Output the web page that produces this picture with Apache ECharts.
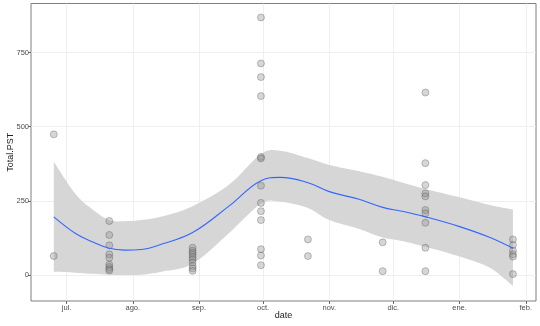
<!DOCTYPE html>
<html><head><meta charset="utf-8">
<script src="https://cdn.jsdelivr.net/npm/echarts@6/dist/echarts.min.js"></script>
<style>html,body{margin:0;padding:0;background:#fff}#c{width:540px;height:326px}</style>
</head><body><div id="c"></div>
<script>
const monthTicks = ['2019-07-01','2019-08-01','2019-09-01','2019-10-01','2019-11-01','2019-12-01','2020-01-01','2020-02-01'];
const monthLabels = ['jul.','ago.','sep.','oct.','nov.','dic.','ene.','feb.'];
const yTicks = [0, 250, 500, 750];

const pointDates = [
  '2019-06-25','2019-06-25',
  '2019-07-21','2019-07-21','2019-07-21','2019-07-21','2019-07-21','2019-07-21','2019-07-21','2019-07-21','2019-07-21',
  '2019-08-29','2019-08-29','2019-08-29','2019-08-29','2019-08-29','2019-08-29','2019-08-29','2019-08-29','2019-08-29','2019-08-29',
  '2019-09-30','2019-09-30','2019-09-30','2019-09-30','2019-09-30','2019-09-30','2019-09-30','2019-09-30','2019-09-30','2019-09-30','2019-09-30','2019-09-30','2019-09-30',
  '2019-10-22','2019-10-22',
  '2019-11-26','2019-11-26',
  '2019-12-16','2019-12-16','2019-12-16','2019-12-16','2019-12-16','2019-12-16','2019-12-16','2019-12-16','2019-12-16','2019-12-16',
  '2020-01-26','2020-01-26','2020-01-26','2020-01-26','2020-01-26','2020-01-26'
];
const pointValues = [
  474, 64,
  182, 135, 100, 70, 58, 35, 27, 20, 15,
  92, 82, 75, 68, 60, 52, 42, 30, 22, 14,
  868, 713, 667, 603, 398, 393, 301, 243, 215, 185, 87, 66, 33,
  120, 64,
  110, 13,
  615, 377, 303, 275, 265, 219, 208, 176, 92, 13,
  120, 101, 82, 70, 62, 3
];

const fitDates = ['2019-06-25','2019-07-05','2019-07-13','2019-07-21','2019-07-28','2019-08-05','2019-08-15','2019-08-29','2019-09-15','2019-09-30','2019-10-09','2019-10-22','2019-11-01','2019-11-15','2019-11-26','2019-12-05','2019-12-16','2020-01-01','2020-01-15','2020-01-26'];
const fitValues = [196, 141, 112, 90, 84, 86, 105, 143, 232, 318, 329, 311, 281, 255, 228, 215, 196, 163, 127, 90];
const fitLower  = [11, 8, 4, 1, 0, 1, 12, 38, 141, 240, 247, 226, 185, 155, 126, 115, 95, 62, 25, -37];
const fitUpper  = [382, 275, 222, 185, 181, 185, 198, 232, 304, 408, 419, 394, 371, 350, 331, 312, 290, 262, 236, 221];

function t(s) { const p = s.split('-'); return new Date(+p[0], +p[1] - 1, +p[2]).getTime(); }
const monthTickTimes = monthTicks.map(t);

// Catmull-Rom path through pixel points (continuing an existing path)
function crSegs(pts) {
  let d = '';
  for (let i = 0; i < pts.length - 1; i++) {
    const p0 = pts[i - 1] || pts[i], p1 = pts[i], p2 = pts[i + 1], p3 = pts[i + 2] || pts[i + 1];
    const k = 1 / 6;
    const c1x = p1[0] + (p2[0] - p0[0]) * k, c1y = p1[1] + (p2[1] - p0[1]) * k;
    const c2x = p2[0] - (p3[0] - p1[0]) * k, c2y = p2[1] - (p3[1] - p1[1]) * k;
    d += ' C' + c1x + ' ' + c1y + ' ' + c2x + ' ' + c2y + ' ' + p2[0] + ' ' + p2[1];
  }
  return d;
}

const chart = echarts.init(document.getElementById('c'));
const labelFont = {fontFamily: 'Liberation Sans, Arial, sans-serif', fontSize: 7.5, color: '#4d4d4d'};

chart.setOption({
  animation: false,
  grid: {left: 31, right: 4, top: 3.5, bottom: 25, outerBoundsMode: 'none', containLabel: false,
         show: true, borderColor: '#7f7f7f', borderWidth: 1},
  xAxis: {
    type: 'value',
    min: new Date(2019, 5, 14, 8).getTime(),
    max: new Date(2020, 1, 5, 19).getTime(),
    name: 'date', nameLocation: 'middle', nameGap: 10, nameMoveOverlap: false,
    nameTextStyle: {fontFamily: 'Liberation Sans, Arial, sans-serif', fontSize: 9, color: '#222'},
    axisLine: {show: false, onZero: false},
    axisTick: {show: true, length: 3, customValues: monthTickTimes, lineStyle: {color: '#444', width: 0.8}},
    axisLabel: Object.assign({customValues: monthTickTimes, margin: 3, hideOverlap: false,
      formatter: function (v) {
        const i = monthTickTimes.indexOf(v);
        return i >= 0 ? monthLabels[i] : '';
      }}, labelFont),
    splitLine: {show: true, lineStyle: {color: '#ebebeb', width: 0.8}}
  },
  yAxis: {
    type: 'value', min: -87.6, max: 915,
    name: 'Total.PST', nameLocation: 'middle', nameGap: 16, nameRotate: 90, nameMoveOverlap: false,
    nameTextStyle: {fontFamily: 'Liberation Sans, Arial, sans-serif', fontSize: 9, color: '#222'},
    axisLine: {show: false, onZero: false},
    axisTick: {show: true, length: 3, customValues: yTicks, lineStyle: {color: '#444', width: 0.8}},
    axisLabel: Object.assign({customValues: yTicks, margin: 2}, labelFont),
    splitLine: {show: true, lineStyle: {color: '#ebebeb', width: 0.8}}
  },
  series: [
    {
      type: 'custom', silent: true, z: 1, clip: true,
      data: [[t(fitDates[0]), fitLower[0]]],
      encode: {x: 0, y: 1},
      renderItem: function (params, api) {
        const up = fitDates.map((d, i) => api.coord([t(d), fitUpper[i]]));
        const lo = fitDates.map((d, i) => api.coord([t(d), fitLower[i]])).reverse();
        const path = 'M' + up[0][0] + ' ' + up[0][1] + crSegs(up) +
                     ' L' + lo[0][0] + ' ' + lo[0][1] + crSegs(lo) + ' Z';
        return {type: 'path', shape: {pathData: path}, style: {fill: '#d6d6d6', stroke: null}};
      }
    },
    {
      type: 'scatter', symbolSize: 7, z: 3,
      itemStyle: {color: 'rgba(140,140,140,0.45)', borderColor: 'rgba(70,70,70,0.5)', borderWidth: 0.8},
      data: pointDates.map((d, i) => [t(d), pointValues[i]])
    },
    {
      type: 'line', smooth: 0.4, symbol: 'none', z: 4,
      lineStyle: {color: '#3366FF', width: 1.1},
      data: fitDates.map((d, i) => [t(d), fitValues[i]])
    }
  ]
});
</script>
</body></html>
